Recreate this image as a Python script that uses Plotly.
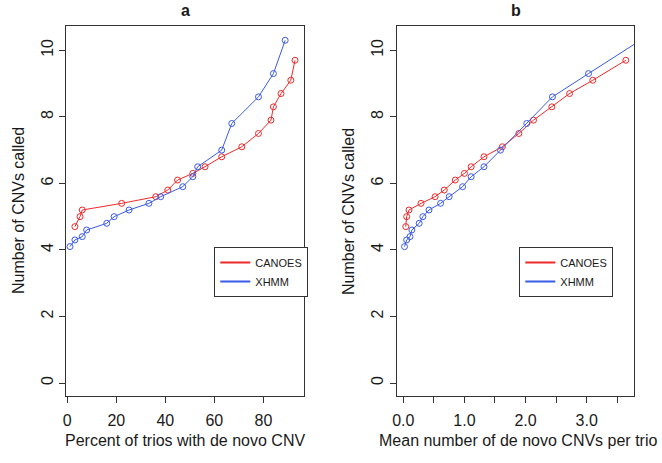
import plotly.graph_objects as go

# ---- data ----
cnv_canoes = [4.7, 5.0, 5.2, 5.4, 5.6, 5.8, 6.1, 6.3, 6.5, 6.8, 7.1, 7.5, 7.9, 8.3, 8.7, 9.1, 9.7]
cnv_xhmm = [4.1, 4.3, 4.4, 4.6, 4.8, 5.0, 5.2, 5.4, 5.6, 5.9, 6.2, 6.5, 7.0, 7.8, 8.6, 9.3, 10.3]

pct_canoes = [3.1, 5.2, 6.1, 22.2, 36.1, 41.0, 45.0, 51.2, 56.2, 63.0, 71.2, 78.0, 83.1, 84.1, 87.2, 91.2, 92.9]
pct_xhmm = [1.1, 3.1, 6.1, 7.9, 16.1, 19.1, 25.2, 33.3, 38.1, 47.1, 51.2, 53.2, 63.0, 67.1, 78.0, 84.1, 88.9]

mean_canoes = [0.04, 0.055, 0.093, 0.29, 0.52, 0.67, 0.85, 1.0, 1.11, 1.32, 1.62, 1.89, 2.13, 2.43, 2.72, 3.10, 3.64]
mean_xhmm = [0.02, 0.055, 0.11, 0.14, 0.26, 0.32, 0.42, 0.61, 0.75, 0.97, 1.11, 1.32, 1.59, 2.02, 2.44, 3.03, 3.88]

x_ticks_a = [0, 20, 40, 60, 80]
x_ticks_b = [0.0, 0.5, 1.0, 1.5, 2.0, 2.5, 3.0, 3.5]
x_labels_b = ["0.0", "", "1.0", "", "2.0", "", "3.0", ""]
y_ticks = [0, 2, 4, 6, 8, 10]

RED = "#ee2a2a"
BLUE = "#3a5ae8"
FONT = "Liberation Sans, Arial, sans-serif"
AX = "#333333"
TXT = "#1a1a1a"
FS = 16

fig = go.Figure()

def series(x, y, color, xa, ya):
    fig.add_trace(go.Scatter(
        x=x, y=y, mode="lines+markers", xaxis=xa, yaxis=ya, showlegend=False,
        line=dict(color=color, width=1),
        marker=dict(symbol="circle-open", size=6, color=color, line=dict(width=1)),
    ))

series(pct_canoes, cnv_canoes, RED, "x", "y")
series(pct_xhmm, cnv_xhmm, BLUE, "x", "y")
series(mean_canoes, cnv_canoes, RED, "x2", "y2")
series(mean_xhmm, cnv_xhmm, BLUE, "x2", "y2")

# legend entries (lines only, as in the reference)
for name, color, lg, xa, ya in [("CANOES", RED, "legend", "x", "y"), ("XHMM", BLUE, "legend", "x", "y"),
                                ("CANOES", RED, "legend2", "x2", "y2"), ("XHMM", BLUE, "legend2", "x2", "y2")]:
    fig.add_trace(go.Scatter(x=[None], y=[None], mode="lines", name=name, legend=lg,
                             xaxis=xa, yaxis=ya, line=dict(color=color, width=2)))

axis_common = dict(showline=True, mirror=True, linecolor=AX, linewidth=1, ticks="outside",
                   ticklen=6, tickcolor=AX, tickwidth=1, showgrid=False, zeroline=False,
                   automargin=False, tickfont=dict(family=FONT, size=FS, color=TXT))

W, H = 662, 463
dom_a = [66 / W, 304.3 / W]
dom_b = [396.7 / W, 634.3 / W]
dom_y = [(H - 396) / H, (H - 26) / H]

leg_common = dict(xanchor="left", yanchor="top", bordercolor=AX, borderwidth=1, bgcolor="white",
                  font=dict(family=FONT, size=11, color=TXT), tracegroupgap=0)

fig.update_layout(
    template="none",
    width=W, height=H, margin=dict(l=0, r=0, t=0, b=0, pad=0),
    paper_bgcolor="white", plot_bgcolor="white",
    font=dict(family=FONT, color=TXT),
    xaxis=dict(domain=dom_a, range=[-0.53, 96.7], tickvals=x_ticks_a, anchor="y",
               ticklabelstandoff=4, **axis_common),
    yaxis=dict(domain=dom_y, range=[-0.39, 10.73], tickvals=y_ticks, tickangle=-90, anchor="x", **axis_common),
    xaxis2=dict(domain=dom_b, range=[-0.108, 3.779], tickvals=x_ticks_b, ticktext=x_labels_b, anchor="y2",
                ticklabelstandoff=4, **axis_common),
    yaxis2=dict(domain=dom_y, range=[-0.39, 10.73], tickvals=y_ticks, tickangle=-90, anchor="x2", **axis_common),
    legend=dict(x=214.3 / W, y=1 - 247 / H, **leg_common),
    legend2=dict(x=519.3 / W, y=1 - 247 / H, **leg_common),
)

ann = [
    dict(text="<b>a</b>", x=185, y=10, size=FS),
    dict(text="<b>b</b>", x=515.5, y=10, size=FS),
    dict(text="Percent of trios with de novo CNV", x=185, y=440, size=FS),
    dict(text="Mean number of de novo CNVs per trio", x=518, y=440, size=FS),
]
for a in ann:
    fig.add_annotation(text=a["text"], x=a["x"] / W, y=1 - a["y"] / H, xref="paper", yref="paper",
                       showarrow=False, xanchor="center", yanchor="middle",
                       font=dict(family=FONT, size=a["size"], color=TXT))
for xc in [18, 348]:
    fig.add_annotation(text="Number of CNVs called", x=xc / W, y=1 - 211 / H, xref="paper", yref="paper",
                       showarrow=False, textangle=-90, xanchor="center", yanchor="middle",
                       font=dict(family=FONT, size=FS, color=TXT))

fig.write_html("out.html", config={"displayModeBar": False},
               post_script="document.body.style.margin='0';document.body.style.overflow='hidden';")
